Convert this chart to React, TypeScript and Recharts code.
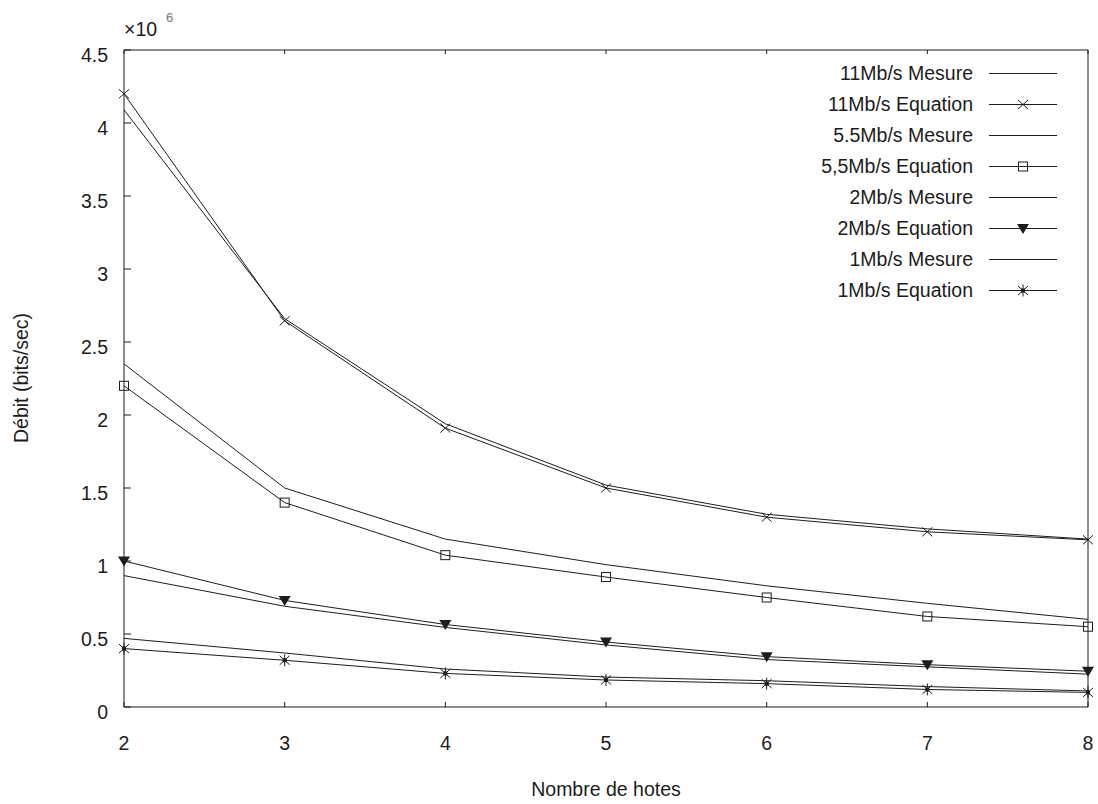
import { Legend, Line, LineChart, XAxis, YAxis } from 'recharts';

const hosts = [2, 3, 4, 5, 6, 7, 8];
const yTicks = [0, 0.5e6, 1e6, 1.5e6, 2e6, 2.5e6, 3e6, 3.5e6, 4e6, 4.5e6];

// bits/sec
const mesure11 = [4.09e6, 2.66e6, 1.94e6, 1.52e6, 1.32e6, 1.22e6, 1.15e6];
const equation11 = [4.2e6, 2.645e6, 1.91e6, 1.5e6, 1.3e6, 1.2e6, 1.145e6];
const mesure55 = [2.35e6, 1.5e6, 1.15e6, 0.975e6, 0.83e6, 0.71e6, 0.6e6];
const equation55 = [2.2e6, 1.4e6, 1.04e6, 0.89e6, 0.75e6, 0.62e6, 0.55e6];
const mesure2 = [0.9e6, 0.69e6, 0.545e6, 0.425e6, 0.325e6, 0.275e6, 0.225e6];
const equation2 = [1.0e6, 0.73e6, 0.565e6, 0.445e6, 0.345e6, 0.29e6, 0.245e6];
const mesure1 = [0.47e6, 0.37e6, 0.26e6, 0.205e6, 0.18e6, 0.14e6, 0.11e6];
const equation1 = [0.4e6, 0.32e6, 0.23e6, 0.185e6, 0.16e6, 0.12e6, 0.1e6];

const FONT = '"Liberation Sans", Arial, sans-serif';
const INK = '#1c1c1c';
const LINE = '#1e1e1e';

type Shape = 'cross' | 'square' | 'tri' | 'star' | null;

const series: { key: string; name: string; values: number[]; shape: Shape }[] = [
  { key: 'm11', name: '11Mb/s Mesure', values: mesure11, shape: null },
  { key: 'e11', name: '11Mb/s Equation', values: equation11, shape: 'cross' },
  { key: 'm55', name: '5.5Mb/s Mesure', values: mesure55, shape: null },
  { key: 'e55', name: '5,5Mb/s Equation', values: equation55, shape: 'square' },
  { key: 'm2', name: '2Mb/s Mesure', values: mesure2, shape: null },
  { key: 'e2', name: '2Mb/s Equation', values: equation2, shape: 'tri' },
  { key: 'm1', name: '1Mb/s Mesure', values: mesure1, shape: null },
  { key: 'e1', name: '1Mb/s Equation', values: equation1, shape: 'star' },
];

const data = hosts.map((h, i) => {
  const row: Record<string, number> = { hosts: h };
  series.forEach((s) => {
    row[s.key] = s.values[i];
  });
  return row;
});

function Marker({ shape, cx, cy }: { shape: Shape; cx: number; cy: number }) {
  if (shape === 'cross') {
    return (
      <path
        d={`M${cx - 5},${cy - 4.5}L${cx + 5},${cy + 4.5}M${cx - 5},${cy + 4.5}L${cx + 5},${cy - 4.5}`}
        stroke={INK}
        strokeWidth={1}
        fill="none"
      />
    );
  }
  if (shape === 'square') {
    return <rect x={cx - 4.5} y={cy - 4.5} width={9} height={9} fill="none" stroke={INK} />;
  }
  if (shape === 'tri') {
    return <path d={`M${cx - 6},${cy - 4.5}L${cx + 6},${cy - 4.5}L${cx},${cy + 5.5}Z`} fill={INK} />;
  }
  if (shape === 'star') {
    return (
      <g>
        <path
          d={`M${cx - 5},${cy - 4.5}L${cx + 5},${cy + 4.5}M${cx - 5},${cy + 4.5}L${cx + 5},${cy - 4.5}M${cx},${cy - 6}L${cx},${cy + 6}`}
          stroke={INK}
          fill="none"
        />
        <rect x={cx - 2} y={cy - 2} width={4} height={4} fill={INK} />
      </g>
    );
  }
  return null;
}

function LegendBox() {
  return (
    <div style={{ fontFamily: FONT, fontSize: 19.5, color: INK, width: 290 }}>
      {series.map((s) => (
        <div key={s.key} style={{ display: 'flex', alignItems: 'center', height: 31 }}>
          <span style={{ width: 173, textAlign: 'right', whiteSpace: 'nowrap' }}>{s.name}</span>
          <svg width={70} height={31} style={{ marginLeft: 16, display: 'block' }}>
            <line x1={0} x2={68} y1={15.5} y2={15.5} stroke={LINE} />
            <Marker shape={s.shape} cx={34} cy={15.5} />
          </svg>
        </div>
      ))}
    </div>
  );
}

// gnuplot-style inward ticks. Axes use tickSize 1 / tickMargin 0, so the
// tick props sit 1px outside the axis line.
const BottomTick = (p: any) => {
  const ay = p.y - 1;
  return (
    <g>
      <line x1={p.x} x2={p.x} y1={ay} y2={ay - 5} stroke={INK} />
      <text x={p.x} y={ay + 43} textAnchor="middle" fontFamily={FONT} fontSize={19.5} fill={INK}>
        {p.payload.value}
      </text>
    </g>
  );
};

const LeftTick = (p: any) => {
  const ax = p.x + 1;
  return (
    <g>
      <line x1={ax} x2={ax + 7} y1={p.y} y2={p.y} stroke={INK} />
      <text x={ax - 16} y={p.y + 11.5} textAnchor="end" fontFamily={FONT} fontSize={19.5} fill={INK}>
        {p.payload.value / 1e6}
      </text>
    </g>
  );
};

const TopTick = (p: any) => {
  const ay = p.y + 1;
  return <line x1={p.x} x2={p.x} y1={ay} y2={ay + 4} stroke={INK} />;
};

const RightTick = (p: any) => {
  const ax = p.x - 1;
  return <line x1={ax} x2={ax - 4} y1={p.y} y2={p.y} stroke={INK} />;
};

const Titles = () => (
  <g fontFamily={FONT} fill={INK}>
    <text
      transform="translate(21,378) rotate(-90)"
      textAnchor="middle"
      dominantBaseline="central"
      fontSize={19.5}
    >
      Débit (bits/sec)
    </text>
    <text x={124} y={36} fontSize={19.5}>
      ×10
    </text>
    <text x={166} y={22} fontSize={13} fill="#777">
      6
    </text>
  </g>
);

const XTitle = () => (
  <text x={606} y={796} textAnchor="middle" fontFamily={FONT} fontSize={19.5} fill={INK}>
    Nombre de hotes
  </text>
);

export default function App() {
  return (
    <div style={{ position: 'absolute', left: 0, top: 0, background: '#fff' }}>
      <LineChart
        width={1098}
        height={804}
        data={data}
        margin={{ top: 49, right: 9, bottom: 57, left: 24 }}
      >
        <XAxis
          dataKey="hosts"
          type="number"
          domain={[2, 8]}
          ticks={hosts}
          height={40}
          tickSize={1}
          tickMargin={0}
          tickLine={false}
          tick={BottomTick}
          stroke={INK}
          label={{ content: XTitle }}
        />
        <XAxis
          xAxisId="top"
          orientation="top"
          type="number"
          dataKey="hosts"
          domain={[2, 8]}
          ticks={hosts}
          height={1}
          tickSize={1}
          tickMargin={0}
          tickLine={false}
          tick={TopTick}
          stroke={INK}
        />
        <YAxis
          type="number"
          domain={[0, 4.5e6]}
          ticks={yTicks}
          width={100}
          tickSize={1}
          tickMargin={0}
          tickLine={false}
          tick={LeftTick}
          stroke={INK}
          label={{ content: Titles }}
        />
        <YAxis
          yAxisId="right"
          orientation="right"
          type="number"
          domain={[0, 4.5e6]}
          ticks={yTicks}
          width={1}
          tickSize={1}
          tickMargin={0}
          tickLine={false}
          tick={RightTick}
          stroke={INK}
        />
        {series.map((s) => (
          <Line
            key={s.key}
            dataKey={s.key}
            name={s.name}
            type="linear"
            stroke={LINE}
            strokeWidth={1}
            isAnimationActive={false}
            dot={
              s.shape
                ? (p: any) => <Marker key={`${s.key}-${p.index}`} shape={s.shape} cx={p.cx} cy={p.cy} />
                : false
            }
            activeDot={false}
          />
        ))}
        <Legend
          layout="vertical"
          align="center"
          verticalAlign="middle"
          content={() => <LegendBox />}
          wrapperStyle={{ position: 'absolute', top: 58, left: 800, width: 290, height: 248 }}
        />
      </LineChart>
    </div>
  );
}
